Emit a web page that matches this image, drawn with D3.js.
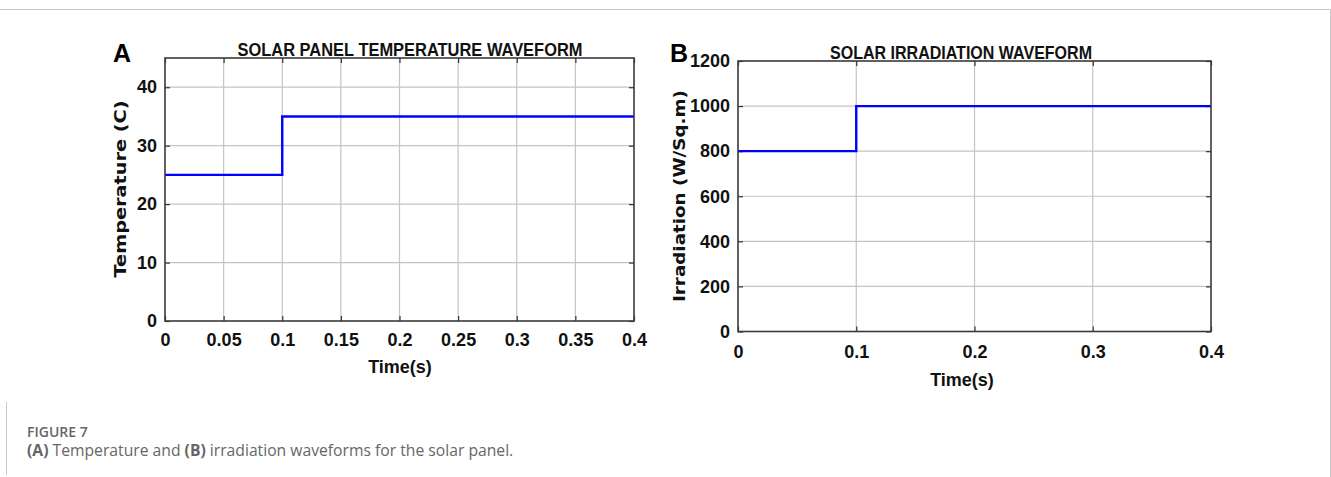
<!DOCTYPE html>
<html>
<head>
<meta charset="utf-8">
<script src="https://cdn.jsdelivr.net/npm/d3@7"></script>
<style>
  html, body { margin: 0; padding: 0; background: #fff; }
  svg { display: block; }
  .narrow { font-family: "Liberation Sans Narrow", "Arial Narrow", "Liberation Sans", Arial, sans-serif; font-weight: bold; }
  .caption { font-family: "Open Sans", "Noto Sans", sans-serif; fill: #666; }
</style>
</head>
<body>
<svg id="fig" width="1331" height="477"></svg>
<script>
// Step inputs fed to the solar panel model
const timeBreaks = [0, 0.1, 0.4];
const temperature = [25, 35, 35];          // deg C
const irradiation = [800, 1000, 1000];     // W/Sq.m

// Axis ticks
const tempXTicks = [0, 0.05, 0.1, 0.15, 0.2, 0.25, 0.3, 0.35, 0.4];
const tempXLabels = ["0", "0.05", "0.1", "0.15", "0.2", "0.25", "0.3", "0.35", "0.4"];
const tempYTicks = [0, 10, 20, 30, 40];
const irrXTicks = [0, 0.1, 0.2, 0.3, 0.4];
const irrXLabels = ["0", "0.1", "0.2", "0.3", "0.4"];
const irrYTicks = [0, 200, 400, 600, 800, 1000, 1200];

const svg = d3.select("#fig");

// page frame lines
svg.append("line").attr("x1", 0).attr("x2", 1330.5).attr("y1", 9.5).attr("y2", 9.5)
  .attr("stroke", "#c8c8c8").attr("stroke-width", 1);
svg.append("line").attr("x1", 1330.5).attr("x2", 1330.5).attr("y1", 9.5).attr("y2", 477)
  .attr("stroke", "#c8c8c8").attr("stroke-width", 1);
svg.append("line").attr("x1", 6.5).attr("x2", 6.5).attr("y1", 402).attr("y2", 475)
  .attr("stroke", "#c8c8c8").attr("stroke-width", 1);

function panel(cfg) {
  const g = svg.append("g");
  const x = d3.scaleLinear().domain(cfg.xDomain).range([cfg.left, cfg.right]);
  const y = d3.scaleLinear().domain(cfg.yDomain).range([cfg.bottom, cfg.top]);

  // grid
  g.append("g").selectAll("line").data(cfg.xTicks.slice(1, -1)).join("line")
    .attr("x1", d => x(d)).attr("x2", d => x(d))
    .attr("y1", cfg.top).attr("y2", cfg.bottom)
    .attr("stroke", "#c4c4c4").attr("stroke-width", 1.2);
  g.append("g").selectAll("line").data(cfg.yTicks.filter(v => v > cfg.yDomain[0] && v < cfg.yDomain[1])).join("line")
    .attr("x1", cfg.left).attr("x2", cfg.right)
    .attr("y1", d => y(d)).attr("y2", d => y(d))
    .attr("stroke", "#c4c4c4").attr("stroke-width", 1.2);

  // axes with inward ticks on all four sides
  const tk = 5;
  const bottomAxis = d3.axisBottom(x).tickValues(cfg.xTicks)
    .tickFormat((d, i) => cfg.xLabels[i]).tickSizeInner(-tk).tickSizeOuter(0).tickPadding(cfg.xPad);
  const topAxis = d3.axisTop(x).tickValues(cfg.xTicks).tickFormat("").tickSizeInner(-tk).tickSizeOuter(0);
  const leftAxis = d3.axisLeft(y).tickValues(cfg.yTicks).tickFormat(d3.format("d"))
    .tickSizeInner(-tk).tickSizeOuter(0).tickPadding(8);
  const rightAxis = d3.axisRight(y).tickValues(cfg.yTicks).tickFormat("").tickSizeInner(-tk).tickSizeOuter(0);

  const ax = [
    g.append("g").attr("transform", `translate(0,${cfg.bottom})`).call(bottomAxis),
    g.append("g").attr("transform", `translate(0,${cfg.top})`).call(topAxis),
    g.append("g").attr("transform", `translate(${cfg.left},0)`).call(leftAxis),
    g.append("g").attr("transform", `translate(${cfg.right},0)`).call(rightAxis)
  ];
  ax.forEach(a => {
    a.select(".domain").remove();
    a.selectAll(".tick line").attr("stroke", "#333").attr("stroke-width", 1.2);
    a.selectAll("text").attr("class", "narrow").attr("fill", "#111")
      .style("font-size", cfg.tickFont + "px").attr("font-size", null);
  });
  ax[0].selectAll("text").attr("dy", "0.71em");

  // data line
  const line = d3.line().x((d, i) => x(timeBreaks[i])).y(d => y(d)).curve(d3.curveStepAfter);
  g.append("path").datum(cfg.values).attr("d", line)
    .attr("fill", "none").attr("stroke", "#0000ff").attr("stroke-width", 2.4);

  // frame
  g.append("rect").attr("x", cfg.left).attr("y", cfg.top)
    .attr("width", cfg.right - cfg.left).attr("height", cfg.bottom - cfg.top)
    .attr("fill", "none").attr("stroke", "#3a3a3a").attr("stroke-width", 1.6);

  // title
  g.append("text").attr("class", "narrow").attr("x", cfg.titleX).attr("y", cfg.top - 2)
    .attr("text-anchor", "middle").style("font-size", "19px").attr("fill", "#111")
    .attr("textLength", cfg.titleW).attr("lengthAdjust", "spacingAndGlyphs")
    .text(cfg.title);

  // x label
  g.append("text").attr("class", "narrow").attr("x", cfg.xLabelX).attr("y", cfg.xLabelY)
    .attr("text-anchor", "middle").style("font-size", "18px").attr("fill", "#111")
    .text("Time(s)");

  // y label
  g.append("text")
    .attr("transform", `translate(${cfg.yLabelX},${cfg.yLabelY}) rotate(-90)`)
    .attr("text-anchor", "middle")
    .style("font-family", "'DejaVu Sans', Verdana, sans-serif").style("font-weight", "bold")
    .style("font-size", "15px").attr("fill", "#111")
    .attr("textLength", cfg.yLabelW).attr("lengthAdjust", "spacingAndGlyphs")
    .text(cfg.yLabel);

  // panel letter
  g.append("text").attr("x", cfg.letterX).attr("y", 62)
    .style("font-family", "'Liberation Sans', Arial, sans-serif").style("font-weight", "bold")
    .style("font-size", "25px").attr("fill", "#000")
    .text(cfg.letter);
}

panel({
  letter: "A", letterX: 113,
  left: 165, right: 634, top: 58, bottom: 321,
  xDomain: [0, 0.4], yDomain: [0, 45],
  xTicks: tempXTicks, xLabels: tempXLabels, yTicks: tempYTicks,
  values: temperature, tickFont: 18, xPad: 12,
  title: "SOLAR PANEL TEMPERATURE WAVEFORM", titleX: 410, titleW: 345,
  xLabelX: 400, xLabelY: 373,
  yLabel: "Temperature (C)", yLabelX: 126, yLabelY: 189, yLabelW: 177
});

panel({
  letter: "B", letterX: 670,
  left: 738, right: 1211, top: 61, bottom: 331.5,
  xDomain: [0, 0.4], yDomain: [0, 1200],
  xTicks: irrXTicks, xLabels: irrXLabels, yTicks: irrYTicks,
  values: irradiation, tickFont: 18, xPad: 14,
  title: "SOLAR IRRADIATION WAVEFORM", titleX: 961, titleW: 262,
  xLabelX: 962, xLabelY: 386,
  yLabel: "Irradiation (W/Sq.m)", yLabelX: 685, yLabelY: 196, yLabelW: 212
});

// figure caption
svg.append("text").attr("class", "caption").attr("x", 27).attr("y", 437)
  .style("font-size", "14px").style("font-weight", "600").text("FIGURE 7");
const cap = svg.append("text").attr("class", "caption").attr("x", 27).attr("y", 456)
  .style("font-size", "15.7px");
[["(A)", true], [" Temperature and ", false], ["(B)", true], [" irradiation waveforms for the solar panel.", false]]
  .forEach(([t, b]) => cap.append("tspan").style("font-weight", b ? "700" : "400").text(t));
</script>
</body>
</html>
